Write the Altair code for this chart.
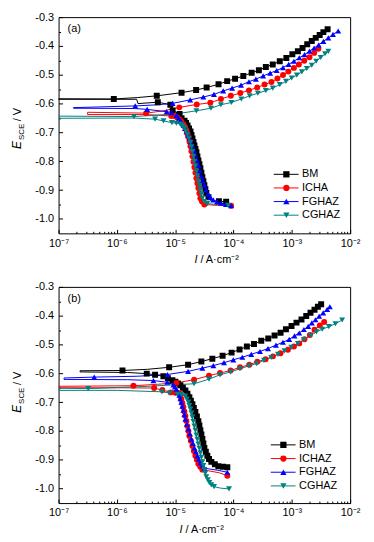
import altair as alt
import pandas as pd

# ---------------- data (log10 of current density in A/cm2, potential in V vs SCE, marker flag) -----
KEYS = ["BM", "ICH", "FGHAZ", "CGHAZ"]
LABELS_A = ["BM", "ICHA", "FGHAZ", "CGHAZ"]
LABELS_B = ["BM", "ICHAZ", "FGHAZ", "CGHAZ"]
COLORS = ["#000000", "#ff0000", "#0000ff", "#008080"]
SHAPES = ["square", "circle", "triangle-up", "triangle-down"]
PANEL_TAGS = ["(a)", "(b)"]

A_BM = [(-4.126, -0.940, 1), (-4.250, -0.939, 1), (-4.381, -0.938, 0), (-4.430, -0.925, 1),
        (-4.466, -0.910, 1), (-4.483, -0.897, 1), (-4.500, -0.883, 1), (-4.517, -0.869, 1),
        (-4.534, -0.855, 1), (-4.551, -0.840, 1), (-4.568, -0.824, 1), (-4.585, -0.810, 1),
        (-4.602, -0.797, 1), (-4.619, -0.783, 1), (-4.636, -0.769, 1), (-4.653, -0.757, 1),
        (-4.670, -0.745, 1), (-4.687, -0.733, 1), (-4.704, -0.721, 1), (-4.721, -0.709, 1),
        (-4.738, -0.697, 1), (-4.763, -0.686, 1), (-4.789, -0.676, 1), (-4.815, -0.667, 1),
        (-4.840, -0.659, 1), (-4.891, -0.651, 1), (-4.925, -0.636, 1), (-5.044, -0.624, 1),
        (-5.083, -0.604, 1), (-5.298, -0.595, 1), (-5.639, -0.600, 0), (-5.660, -0.585, 0),
        (-7.300, -0.585, 0), (-7.300, -0.583, 0), (-6.053, -0.584, 1), (-5.650, -0.579, 0),
        (-5.316, -0.573, 1), (-4.891, -0.562, 1), (-4.641, -0.553, 1), (-4.461, -0.544, 1),
        (-4.257, -0.533, 1), (-4.109, -0.522, 1), (-3.973, -0.514, 1), (-3.832, -0.504, 1),
        (-3.689, -0.493, 1), (-3.565, -0.484, 1), (-3.446, -0.473, 1), (-3.327, -0.464, 1),
        (-3.207, -0.453, 1), (-3.094, -0.442, 1), (-2.991, -0.429, 1), (-2.896, -0.418, 1),
        (-2.816, -0.407, 1), (-2.736, -0.394, 1), (-2.658, -0.383, 1), (-2.590, -0.372, 1),
        (-2.522, -0.362, 1), (-2.459, -0.352, 1), (-2.386, -0.342, 1)]

A_ICH = [(-4.041, -0.954, 1), (-4.279, -0.953, 0), (-4.500, -0.950, 1), (-4.540, -0.940, 1),
         (-4.568, -0.928, 1), (-4.585, -0.911, 1), (-4.602, -0.893, 1), (-4.619, -0.876, 1),
         (-4.636, -0.859, 1), (-4.653, -0.840, 1), (-4.670, -0.821, 1), (-4.687, -0.802, 1),
         (-4.704, -0.783, 1), (-4.721, -0.765, 1), (-4.738, -0.748, 1), (-4.755, -0.732, 1),
         (-4.772, -0.717, 1), (-4.789, -0.705, 1), (-4.806, -0.693, 1), (-4.830, -0.682, 1),
         (-4.857, -0.672, 1), (-4.890, -0.663, 1), (-4.925, -0.655, 1), (-4.965, -0.648, 1),
         (-5.010, -0.643, 1), (-5.067, -0.643, 1), (-5.500, -0.638, 0), (-6.502, -0.638, 0),
         (-6.502, -0.630, 0), (-5.498, -0.633, 1), (-5.200, -0.625, 0), (-4.930, -0.613, 1),
         (-4.631, -0.603, 1), (-4.398, -0.597, 1), (-4.216, -0.584, 1), (-4.046, -0.573, 1),
         (-3.883, -0.563, 1), (-3.735, -0.554, 1), (-3.594, -0.544, 1), (-3.468, -0.534, 1),
         (-3.349, -0.525, 1), (-3.247, -0.513, 1), (-3.151, -0.501, 1), (-3.060, -0.489, 1),
         (-2.964, -0.476, 1), (-2.879, -0.464, 1), (-2.787, -0.451, 1), (-2.697, -0.439, 1),
         (-2.617, -0.424, 1), (-2.544, -0.410, 1)]

A_FG = [(-4.041, -0.954, 1), (-4.130, -0.950, 1), (-4.211, -0.945, 1), (-4.280, -0.940, 1),
        (-4.347, -0.934, 1), (-4.395, -0.925, 1), (-4.432, -0.914, 1), (-4.470, -0.899, 1),
        (-4.500, -0.883, 1), (-4.526, -0.868, 1), (-4.551, -0.852, 1), (-4.577, -0.833, 1),
        (-4.602, -0.814, 1), (-4.628, -0.797, 1), (-4.653, -0.779, 1), (-4.679, -0.763, 1),
        (-4.704, -0.748, 1), (-4.730, -0.734, 1), (-4.755, -0.721, 1), (-4.781, -0.709, 1),
        (-4.806, -0.697, 1), (-4.832, -0.686, 1), (-4.857, -0.676, 1), (-4.883, -0.667, 1),
        (-4.908, -0.659, 1), (-4.940, -0.650, 1), (-4.976, -0.641, 1), (-5.061, -0.631, 1),
        (-5.146, -0.628, 1), (-5.481, -0.620, 1), (-5.700, -0.617, 0), (-6.745, -0.616, 0),
        (-6.745, -0.614, 0), (-5.685, -0.608, 1), (-5.300, -0.604, 0), (-5.044, -0.599, 1),
        (-4.743, -0.587, 1), (-4.517, -0.577, 1), (-4.335, -0.568, 1), (-4.177, -0.556, 1),
        (-4.024, -0.546, 1), (-3.871, -0.536, 1), (-3.735, -0.524, 1), (-3.616, -0.515, 1),
        (-3.492, -0.504, 1), (-3.372, -0.494, 1), (-3.259, -0.485, 1), (-3.151, -0.475, 1),
        (-3.054, -0.464, 1), (-2.964, -0.453, 1), (-2.872, -0.441, 1), (-2.782, -0.430, 1),
        (-2.697, -0.418, 1), (-2.617, -0.407, 1), (-2.539, -0.396, 1), (-2.459, -0.384, 1),
        (-2.374, -0.372, 1), (-2.294, -0.360, 1), (-2.204, -0.348, 1)]

A_CG = [(-4.092, -0.953, 1), (-4.279, -0.950, 0), (-4.449, -0.947, 1), (-4.500, -0.940, 1),
        (-4.534, -0.928, 1), (-4.551, -0.914, 1), (-4.568, -0.900, 1), (-4.585, -0.884, 1),
        (-4.602, -0.869, 1), (-4.619, -0.851, 1), (-4.636, -0.834, 1), (-4.653, -0.817, 1),
        (-4.670, -0.800, 1), (-4.687, -0.783, 1), (-4.704, -0.766, 1), (-4.721, -0.750, 1),
        (-4.738, -0.734, 1), (-4.763, -0.720, 1), (-4.789, -0.707, 1), (-4.815, -0.696, 1),
        (-4.840, -0.686, 1), (-4.865, -0.680, 1), (-4.891, -0.676, 1), (-4.903, -0.671, 1),
        (-4.980, -0.668, 1), (-5.056, -0.666, 1), (-5.200, -0.660, 1), (-5.345, -0.654, 1),
        (-5.707, -0.650, 0), (-7.300, -0.651, 0), (-7.300, -0.643, 0), (-5.707, -0.645, 1),
        (-5.000, -0.636, 0), (-4.636, -0.625, 1), (-4.386, -0.616, 1), (-4.216, -0.604, 1),
        (-4.036, -0.596, 1), (-3.866, -0.584, 1), (-3.723, -0.573, 1), (-3.582, -0.564, 1),
        (-3.446, -0.555, 1), (-3.327, -0.546, 1), (-3.207, -0.534, 1), (-3.100, -0.523, 1),
        (-3.003, -0.511, 1), (-2.913, -0.501, 1), (-2.828, -0.490, 1), (-2.743, -0.478, 1),
        (-2.658, -0.467, 1), (-2.583, -0.453, 1), (-2.505, -0.440, 1), (-2.430, -0.427, 1),
        (-2.374, -0.419, 1)]

B_BM = [(-4.106, -0.926, 1), (-4.180, -0.924, 1), (-4.260, -0.922, 1), (-4.320, -0.915, 1),
        (-4.380, -0.907, 1), (-4.420, -0.897, 1), (-4.449, -0.886, 1), (-4.475, -0.872, 1),
        (-4.500, -0.859, 1), (-4.517, -0.843, 1), (-4.534, -0.828, 1), (-4.551, -0.812, 1),
        (-4.568, -0.797, 1), (-4.585, -0.781, 1), (-4.603, -0.766, 1), (-4.628, -0.750, 1),
        (-4.654, -0.734, 1), (-4.680, -0.720, 1), (-4.705, -0.707, 1), (-4.731, -0.695, 1),
        (-4.757, -0.683, 1), (-4.790, -0.671, 1), (-4.825, -0.659, 1), (-4.868, -0.650, 1),
        (-4.911, -0.641, 1), (-4.954, -0.635, 1), (-4.997, -0.629, 1), (-5.048, -0.624, 1),
        (-5.125, -0.617, 1), (-5.202, -0.610, 1), (-5.345, -0.605, 1), (-5.488, -0.601, 1),
        (-5.818, -0.597, 0), (-6.632, -0.595, 0), (-6.632, -0.591, 0), (-5.904, -0.590, 1),
        (-5.476, -0.586, 0), (-5.104, -0.579, 1), (-4.779, -0.570, 1), (-4.551, -0.559, 1),
        (-4.363, -0.549, 1), (-4.187, -0.539, 1), (-4.033, -0.528, 1), (-3.896, -0.517, 1),
        (-3.771, -0.507, 1), (-3.649, -0.498, 1), (-3.524, -0.487, 1), (-3.404, -0.479, 1),
        (-3.296, -0.469, 1), (-3.193, -0.459, 1), (-3.101, -0.447, 1), (-3.005, -0.436, 1),
        (-2.920, -0.424, 1), (-2.834, -0.413, 1), (-2.753, -0.401, 1), (-2.680, -0.390, 1),
        (-2.611, -0.379, 1), (-2.553, -0.369, 1), (-2.497, -0.360, 1)]

B_ICH = [(-4.106, -0.955, 1), (-4.243, -0.945, 0), (-4.534, -0.934, 1), (-4.570, -0.924, 1),
         (-4.603, -0.914, 1), (-4.628, -0.900, 1), (-4.654, -0.886, 1), (-4.680, -0.869, 1),
         (-4.705, -0.852, 1), (-4.731, -0.834, 1), (-4.757, -0.817, 1), (-4.774, -0.800, 1),
         (-4.791, -0.783, 1), (-4.808, -0.765, 1), (-4.825, -0.748, 1), (-4.843, -0.732, 1),
         (-4.860, -0.717, 1), (-4.877, -0.703, 1), (-4.894, -0.690, 1), (-4.911, -0.679, 1),
         (-4.928, -0.669, 1), (-4.997, -0.667, 1), (-5.077, -0.666, 1), (-5.220, -0.658, 1),
         (-5.361, -0.651, 1), (-5.990, -0.650, 0), (-7.100, -0.650, 0), (-7.100, -0.645, 0),
         (-5.716, -0.643, 1), (-5.305, -0.638, 0), (-4.979, -0.633, 1), (-4.676, -0.622, 1),
         (-4.420, -0.608, 1), (-4.231, -0.599, 1), (-4.050, -0.590, 1), (-3.889, -0.579, 1),
         (-3.729, -0.570, 1), (-3.592, -0.560, 1), (-3.450, -0.551, 1), (-3.324, -0.541, 1),
         (-3.194, -0.530, 1), (-3.067, -0.518, 1), (-2.964, -0.507, 1), (-2.873, -0.496, 1),
         (-2.783, -0.482, 1), (-2.690, -0.467, 1), (-2.611, -0.449, 1), (-2.519, -0.434, 1),
         (-2.445, -0.422, 1)]

B_FG = [(-4.106, -0.943, 1), (-4.277, -0.936, 0), (-4.500, -0.929, 1), (-4.535, -0.920, 1),
        (-4.568, -0.910, 1), (-4.594, -0.898, 1), (-4.620, -0.886, 1), (-4.645, -0.872, 1),
        (-4.671, -0.859, 1), (-4.697, -0.843, 1), (-4.723, -0.828, 1), (-4.748, -0.810, 1),
        (-4.774, -0.793, 1), (-4.800, -0.776, 1), (-4.825, -0.759, 1), (-4.843, -0.743, 1),
        (-4.860, -0.728, 1), (-4.877, -0.714, 1), (-4.894, -0.700, 1), (-4.911, -0.688, 1),
        (-4.928, -0.676, 1), (-4.954, -0.665, 1), (-4.979, -0.655, 1), (-5.005, -0.647, 1),
        (-5.031, -0.640, 1), (-5.134, -0.631, 1), (-5.373, -0.625, 1), (-5.818, -0.622, 0),
        (-6.906, -0.621, 0), (-6.906, -0.616, 0), (-6.389, -0.613, 1), (-5.647, -0.610, 0),
        (-5.134, -0.604, 1), (-4.779, -0.593, 1), (-4.534, -0.582, 1), (-4.346, -0.573, 1),
        (-4.163, -0.563, 1), (-4.003, -0.553, 1), (-3.849, -0.544, 1), (-3.695, -0.534, 1),
        (-3.546, -0.524, 1), (-3.409, -0.514, 1), (-3.272, -0.502, 1), (-3.152, -0.492, 1),
        (-3.045, -0.482, 1), (-2.954, -0.470, 1), (-2.873, -0.460, 1), (-2.793, -0.448, 1),
        (-2.719, -0.437, 1), (-2.656, -0.425, 1), (-2.594, -0.414, 1), (-2.531, -0.402, 1),
        (-2.462, -0.390, 1), (-2.394, -0.378, 1), (-2.348, -0.369, 1)]

B_CG = [(-4.077, -1.001, 1), (-4.226, -0.998, 0), (-4.334, -0.993, 1), (-4.380, -0.987, 1),
        (-4.414, -0.979, 1), (-4.440, -0.969, 1), (-4.466, -0.959, 1), (-4.483, -0.946, 1),
        (-4.500, -0.934, 1), (-4.517, -0.920, 1), (-4.534, -0.907, 1), (-4.551, -0.891, 1),
        (-4.568, -0.876, 1), (-4.585, -0.860, 1), (-4.603, -0.845, 1), (-4.620, -0.829, 1),
        (-4.637, -0.814, 1), (-4.654, -0.798, 1), (-4.671, -0.783, 1), (-4.688, -0.767, 1),
        (-4.705, -0.752, 1), (-4.722, -0.738, 1), (-4.740, -0.724, 1), (-4.757, -0.712, 1),
        (-4.774, -0.700, 1), (-4.800, -0.689, 1), (-4.825, -0.679, 1), (-4.894, -0.674, 1),
        (-4.962, -0.673, 1), (-5.095, -0.668, 1), (-5.228, -0.664, 1), (-5.990, -0.659, 0),
        (-7.190, -0.659, 0), (-7.190, -0.651, 0), (-6.491, -0.653, 1), (-5.476, -0.645, 0),
        (-4.676, -0.636, 1), (-4.420, -0.620, 1), (-4.231, -0.605, 1), (-4.050, -0.595, 1),
        (-3.889, -0.584, 1), (-3.735, -0.574, 1), (-3.604, -0.566, 1), (-3.478, -0.555, 1),
        (-3.353, -0.545, 1), (-3.238, -0.534, 1), (-3.125, -0.522, 1), (-3.010, -0.510, 1),
        (-2.896, -0.497, 1), (-2.793, -0.483, 1), (-2.680, -0.469, 1), (-2.577, -0.456, 1),
        (-2.479, -0.447, 1), (-2.365, -0.438, 1), (-2.252, -0.428, 1), (-2.137, -0.415, 1)]

X_TICKS = [1e-7, 1e-6, 1e-5, 1e-4, 1e-3, 1e-2]
X_MINOR = [m * d for d in [1e-7, 1e-6, 1e-5, 1e-4, 1e-3] for m in range(2, 10)]
Y_TICKS = [-1.0, -0.9, -0.8, -0.7, -0.6, -0.5, -0.4, -0.3]
Y_MINOR = [-0.95, -0.85, -0.75, -0.65, -0.55, -0.45, -0.35]
SUP = {1e-7: "10⁻⁷", 1e-6: "10⁻⁶", 1e-5: "10⁻⁵", 1e-4: "10⁻⁴", 1e-3: "10⁻³", 1e-2: "10⁻²"}

W, H = 294, 218
FONT = "Liberation Sans"

x_expr = ""
for v in X_TICKS[:-1]:
    x_expr += f"datum.value < {v * 3} ? '{SUP[v]}' : "
x_expr += f"'{SUP[X_TICKS[-1]]}'"
y_expr = "replace(format(datum.value, '.1f'), '\u2212', '-')"

x_scale = alt.Scale(type="log", domain=[1e-7, 1e-2], nice=False)
y_scale = alt.Scale(domain=[-1.05, -0.3], nice=False, zero=False)
color_enc = alt.Color("series:N", scale=alt.Scale(domain=KEYS, range=COLORS), legend=None)
shape_enc = alt.Shape("series:N", scale=alt.Scale(domain=KEYS, range=SHAPES), legend=None)

common_ax = dict(grid=False, domain=False, title=None)


def panel(datasets, labels, tag, leg, xt, yt):
    rows = []
    for key, pts in zip(KEYS, datasets):
        for k, (li, e, m) in enumerate(pts):
            rows.append({"series": key, "k": k, "i": 10 ** li, "E": e, "mk": m})
    df = pd.DataFrame(rows)
    base = alt.Chart(df)

    ax_x_lab = alt.Axis(values=X_TICKS, labelExpr=x_expr, ticks=False, tickSize=0, labelPadding=4,
                        labelFont=FONT, labelFontSize=11, labelColor="black", labelFlush=False,
                        labelBound=False, **common_ax)
    ax_x_maj = alt.Axis(orient="top", offset=-H, values=X_TICKS, labels=False, tickSize=4,
                        tickColor="black", **common_ax)
    ax_x_min = alt.Axis(orient="top", offset=-H, values=X_MINOR, labels=False, tickSize=2,
                        tickColor="black", **common_ax)
    ax_y_lab = alt.Axis(values=Y_TICKS, labelExpr=y_expr, ticks=False, tickSize=0, labelPadding=5,
                        labelFont=FONT, labelFontSize=11, labelColor="black", labelFlush=False,
                        labelBound=False, **common_ax)
    ax_y_maj = alt.Axis(orient="right", offset=-W, values=Y_TICKS, labels=False, tickSize=4,
                        tickColor="black", **common_ax)
    ax_y_min = alt.Axis(orient="right", offset=-W, values=Y_MINOR, labels=False, tickSize=2,
                        tickColor="black", **common_ax)

    minor = base.mark_point(opacity=0).encode(
        x=alt.X("i:Q", scale=x_scale, axis=ax_x_min),
        y=alt.Y("E:Q", scale=y_scale, axis=ax_y_min),
    )
    lines = base.mark_line(strokeWidth=1, clip=True).encode(
        x=alt.X("i:Q", scale=x_scale, axis=ax_x_lab),
        y=alt.Y("E:Q", scale=y_scale, axis=ax_y_lab),
        color=color_enc, detail="series:N", order="k:Q",
    )
    points = base.transform_filter("datum.mk == 1").mark_point(
        filled=True, size=36, opacity=1, clip=True).encode(
        x=alt.X("i:Q", scale=x_scale, axis=ax_x_maj),
        y=alt.Y("E:Q", scale=y_scale, axis=ax_y_maj),
        color=color_enc, shape=shape_enc,
    )

    leg_df = pd.DataFrame({"series": KEYS, "label": labels})
    leg_y = alt.Y("series:N", scale=alt.Scale(type="point", domain=KEYS, range=leg["y"], padding=0),
                  axis=None)
    leg_line = alt.Chart(leg_df).mark_rule(strokeWidth=1).encode(
        x=alt.value(leg["x0"]), x2=alt.value(leg["x1"]), y=leg_y, color=color_enc)
    leg_pt = alt.Chart(leg_df).mark_point(filled=True, size=40, opacity=1).encode(
        x=alt.value(leg["xm"]), y=leg_y, color=color_enc, shape=shape_enc)
    leg_txt = alt.Chart(leg_df).mark_text(align="left", baseline="middle", font=FONT,
                                          fontSize=11, color="black").encode(
        x=alt.value(leg["xt"]), y=leg_y, text="label:N")

    tag_txt = alt.Chart(pd.DataFrame({"t": [tag]})).mark_text(
        align="left", baseline="middle", font=FONT, fontSize=11, color="black").encode(
        x=alt.value(9), y=alt.value(12), text="t:N")

    def txt(s, x, y, size, style="normal", angle=0):
        return alt.Chart(pd.DataFrame({"t": [s]})).mark_text(
            align="left", baseline="alphabetic", font=FONT, fontSize=size, fontStyle=style,
            angle=angle, color="black").encode(x=alt.value(x), y=alt.value(y), text="t:N")

    yt1 = txt("E", -38, yt, 12, "italic", 270)
    yt2 = txt("SCE", -35, yt - 9, 8, "normal", 270)
    yt3 = txt("/ V", -38, yt - 28, 11, "normal", 270)
    xt1 = txt("I", xt, H + 30, 11, "italic")
    xt2 = txt("/ A·cm⁻²", xt + 6, H + 30, 11, "normal")

    return alt.layer(minor, lines, points, leg_line, leg_pt, leg_txt, tag_txt,
                     yt1, yt2, yt3, xt1, xt2).resolve_scale(y="independent").resolve_axis(
        x="independent", y="independent").properties(width=W, height=H)


pa = panel([A_BM, A_ICH, A_FG, A_CG], LABELS_A, PANEL_TAGS[0],
           {"y": [158.5, 199.7], "x0": 217, "x1": 242, "xm": 229.7, "xt": 245.5}, 137, 133)
pb = panel([B_BM, B_ICH, B_FG, B_CG], LABELS_B, PANEL_TAGS[1],
           {"y": [159.3, 200.7], "x0": 214, "x1": 239, "xm": 226.7, "xt": 242.5}, 122, 127)

chart = alt.vconcat(pa, pb, spacing=14).properties(
    padding={"left": 2, "top": 0, "right": 5, "bottom": 0}
).configure_view(stroke="black", strokeWidth=1)

chart.save("out.html", embed_options={"renderer": "svg", "actions": False})
